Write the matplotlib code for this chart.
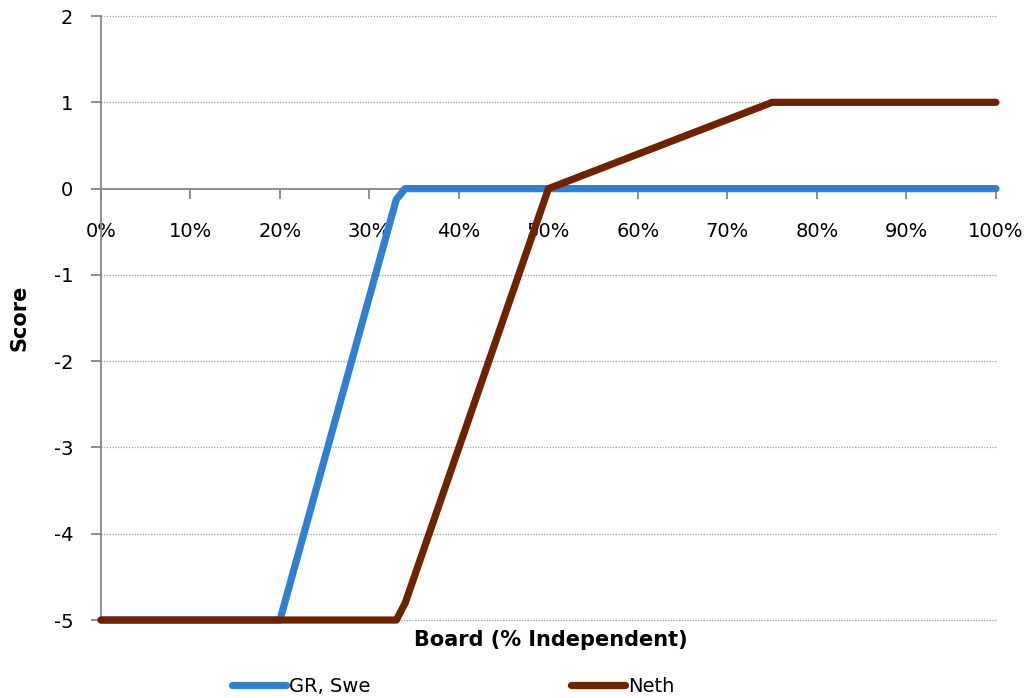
import matplotlib.pyplot as plt

# board independence (%) vs score for each regime
gr_swe_x = [0, 20, 33, 34, 100]
gr_swe_y = [-5, -5, -0.125, 0, 0]
neth_x = [0, 33, 34, 50, 75, 100]
neth_y = [-5, -5, -4.8, 0, 1, 1]

x_ticks = list(range(0, 101, 10))
x_labels = [f"{t}%" for t in x_ticks]
y_ticks = [-5, -4, -3, -2, -1, 0, 1, 2]

plt.rcParams['font.family'] = 'DejaVu Sans'
fig = plt.figure(figsize=(10.25, 6.98), dpi=100)
ax = fig.add_axes([0.0985, 0.1117, 0.8732, 0.8653])

axis_grey = '#868686'
for y in y_ticks:
    if y != 0:
        ax.axhline(y, color='#a0a0a0', linestyle=(0, (1, 1.2)), linewidth=0.9, zorder=0,
                   clip_on=False)

ax.plot(gr_swe_x, gr_swe_y, color='#2F80CE', linewidth=5.2, solid_capstyle='round',
        solid_joinstyle='round', clip_on=False, label='GR, Swe', zorder=3)
ax.plot(neth_x, neth_y, color='#6E2300', linewidth=5.2, solid_capstyle='round',
        solid_joinstyle='round', clip_on=False, label='Neth', zorder=4)

ax.set_xlim(0, 100)
ax.set_ylim(-5, 2)
ax.spines['top'].set_visible(False)
ax.spines['right'].set_visible(False)
ax.spines['bottom'].set_position(('data', 0))
for s in ('left', 'bottom'):
    ax.spines[s].set_color(axis_grey)
    ax.spines[s].set_linewidth(1.3)

ax.set_xticks(x_ticks)
ax.set_xticklabels(x_labels)
ax.set_yticks(y_ticks)
ax.set_yticklabels([str(y) for y in y_ticks])
ax.tick_params(axis='x', direction='out', length=7, width=1.3, color=axis_grey,
               labelsize=14, pad=17)
ax.tick_params(axis='y', direction='out', length=7, width=1.3, color=axis_grey,
               labelsize=14, pad=13)

fig.text(0.537, 0.083, 'Board (% Independent)', ha='center', va='center',
         fontsize=15, fontweight='bold')
fig.text(0.019, 0.545, 'Score', ha='center', va='center', rotation=90,
         fontsize=15, fontweight='bold')

fig.legend(loc='center', bbox_to_anchor=(0.442, 0.017), ncol=2, frameon=False,
           fontsize=14, handlelength=2.8, handletextpad=0.15, columnspacing=10.3)

fig.savefig('out.png', dpi=100)
